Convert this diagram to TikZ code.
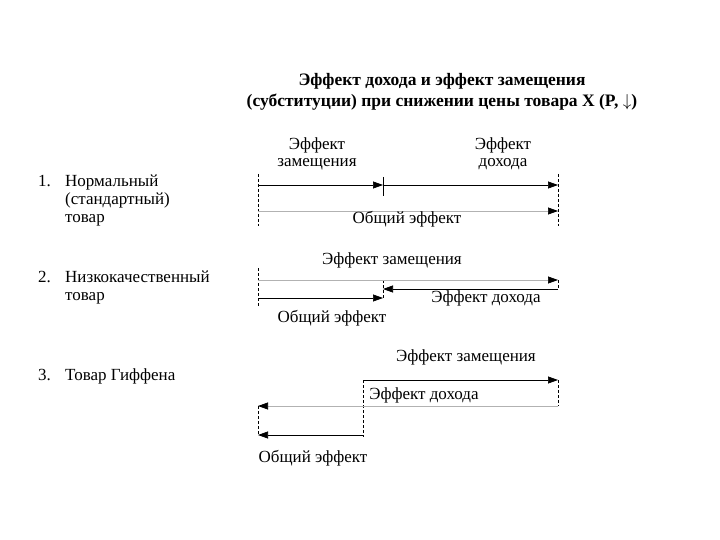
\documentclass[tikz,border=0pt]{standalone}
\usepackage{fontspec}
\setmainfont{Liberation Serif}
\usetikzlibrary{arrows.meta}

\tikzset{
  eff/.style={-{Triangle[length=10pt,width=7pt,color=black]}, line width=0.7pt},
  faint/.style={draw=gray!60},
  guide/.style={densely dashed, line width=0.5pt},
  lbl/.style={font=\fontsize{17}{17}\selectfont, align=center, inner sep=0pt},
  itm/.style={font=\fontsize{17}{18}\selectfont, anchor=north west, align=left, inner sep=0pt},
}

\begin{document}
\begin{tikzpicture}[x=1pt,y=-1pt]
    \useasboundingbox (0,0) rectangle (720,540);
    % title
    \node[font=\bfseries\fontsize{17.5}{21}\selectfont, align=center] (title) at (442,92)
      {Эффект дохода и эффект замещения\\(субституции) при снижении цены товара X (P, $\downarrow$)};
    % left column
    \node[itm] (n1) at (38,175) {1.};
    \node[itm] (g1) at (65,175) {Нормальный\\(стандартный)\\товар};
    \node[itm] (n2) at (38,271) {2.};
    \node[itm] (g2) at (65,271) {Низкокачественный\\товар};
    \node[itm] (n3) at (38,369) {3.};
    \node[itm] (g3) at (65,369) {Товар Гиффена};
    % 1: normal good
    \coordinate (o1) at (258,185);  \coordinate (m1) at (383,185);  \coordinate (e1) at (558,185);
    \coordinate (o1b) at (258,211); \coordinate (e1b) at (558,211);
    \coordinate (t1) at (258,174);  \coordinate (b1) at (258,226);
    \coordinate (t1e) at (558,174); \coordinate (b1e) at (558,226);
    \coordinate (k1t) at (383,177); \coordinate (k1b) at (383,196);
    \draw[guide] (t1) -- (b1);
    \draw[guide] (t1e) -- (b1e);
    \draw (k1t) -- (k1b);
    \draw[eff] (o1) -- (m1);
    \draw[eff] (m1) -- (e1);
    \draw[eff, faint] (o1b) -- (e1b);
    \node[lbl] (sub1) at (317,154) {Эффект\\замещения};
    \node[lbl] (inc1) at (503,154) {Эффект\\дохода};
    \node[lbl] (tot1) at (407,219) {Общий эффект};
    % 2: inferior good
    \coordinate (o2) at (258,280);  \coordinate (e2) at (558,280);
    \coordinate (e2b) at (558,289); \coordinate (m2) at (383,289);
    \coordinate (o2c) at (258,298); \coordinate (m2c) at (383,298);
    \coordinate (t2) at (258,268);  \coordinate (b2) at (258,307);
    \coordinate (k2t) at (383,280); \coordinate (k2b) at (383,298);
    \draw[guide] (t2) -- (b2);
    \draw[guide] (k2t) -- (k2b);
    \draw[guide] (e2) -- (e2b);
    \draw[eff, faint] (o2) -- (e2);
    \draw[eff] (e2b) -- (m2);
    \draw[eff] (o2c) -- (m2c);
    \node[lbl] (sub2) at (392,260) {Эффект замещения};
    \node[lbl] (inc2) at (486,298) {Эффект дохода};
    \node[lbl] (tot2) at (332,318) {Общий эффект};
    % 3: Giffen good
    \coordinate (m3) at (363,380);  \coordinate (e3) at (558,380);
    \coordinate (e3b) at (558,406); \coordinate (o3) at (258,406);
    \coordinate (m3c) at (363,435); \coordinate (o3c) at (258,435);
    \coordinate (k3b) at (363,437);
    \draw[guide] (m3) -- (k3b);
    \draw[guide] (e3) -- (e3b);
    \draw[guide] (o3) -- (o3c);
    \draw[eff] (m3) -- (e3);
    \draw[eff, faint] (e3b) -- (o3);
    \draw[eff] (m3c) -- (o3c);
    \node[lbl] (sub3) at (466,357) {Эффект замещения};
    \node[lbl] (inc3) at (424,395) {Эффект дохода};
    \node[lbl] (tot3) at (313,458) {Общий эффект};
\end{tikzpicture}
\end{document}
